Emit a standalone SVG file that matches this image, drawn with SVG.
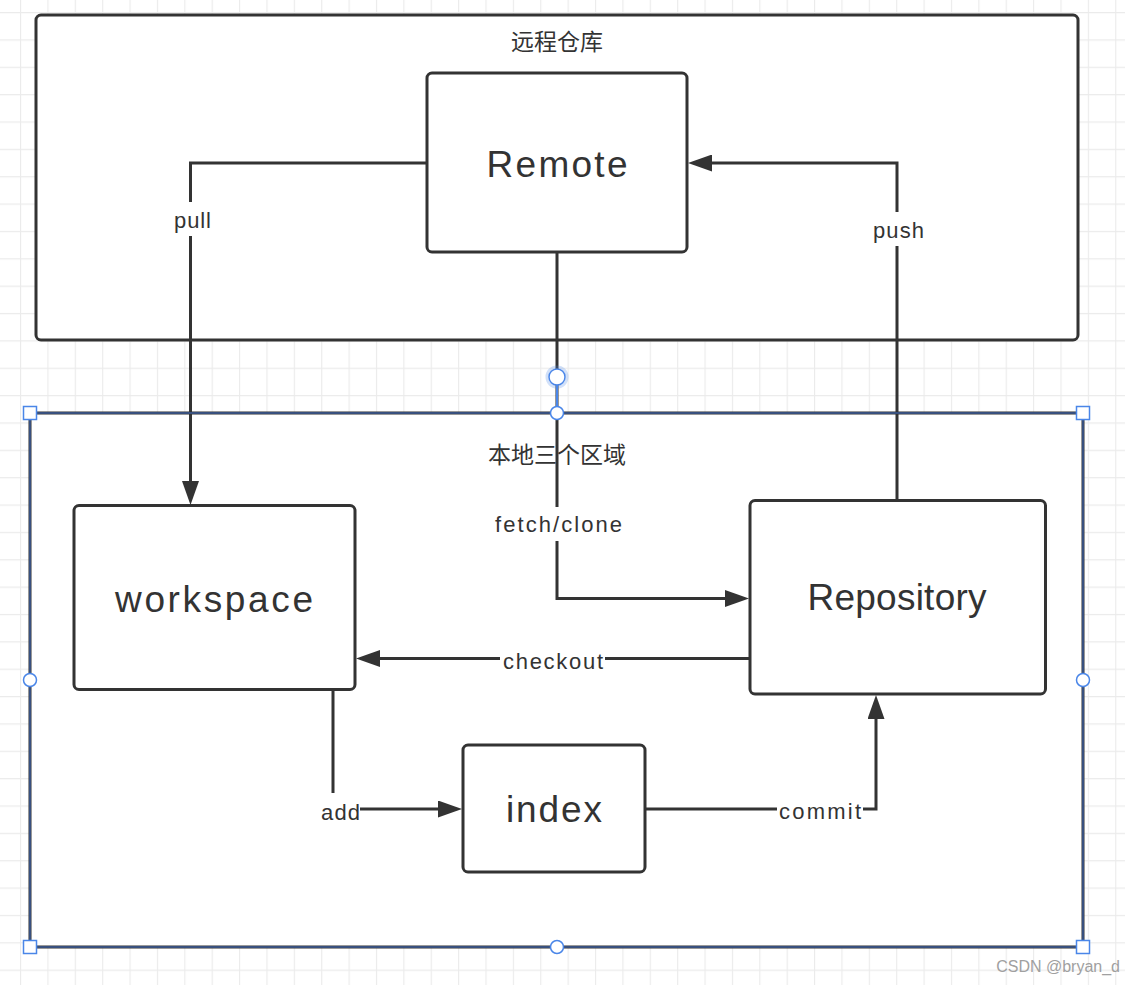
<svg xmlns="http://www.w3.org/2000/svg" width="1125" height="985" viewBox="0 0 1125 985">
  <style>
    .box { fill: #ffffff; stroke: #333333; stroke-width: 3; }
    .big { font-family: "Liberation Sans", Arial, sans-serif; font-size: 37px; fill: #333333; text-anchor: middle; }
    .lbl { font-family: "Liberation Sans", Arial, sans-serif; font-size: 22px; fill: #333333; text-anchor: middle; }
    .cjk { font-family: "Noto Sans CJK SC", "Liberation Sans", sans-serif; font-size: 23px; fill: #333333; text-anchor: middle; }
    .conn { fill: none; stroke: #333333; stroke-width: 3; }
    .lblbg { fill: #ffffff; }
    .hsq { fill: #ffffff; stroke: #4a86e8; stroke-width: 1.5; }
    .hci { fill: #ffffff; stroke: #4a86e8; stroke-width: 1.5; }
  </style>
  <defs>
    <pattern id="grid" x="20" y="12" width="27.38" height="27.36" patternUnits="userSpaceOnUse">
      <path d="M0.5,0 V27.36 M0,0.5 H27.38" fill="none" stroke="#ebebeb" stroke-width="1.3"/>
    </pattern>
    <marker id="ah" markerWidth="24" markerHeight="17" refX="12" refY="8.5" orient="auto" markerUnits="userSpaceOnUse">
      <path d="M0,0 L24,8.5 L0,17 z" fill="#333333"/>
    </marker>
  </defs>

  <rect x="0" y="0" width="1125" height="985" fill="#ffffff"/>
  <rect x="0" y="0" width="1125" height="985" fill="url(#grid)"/>

  <g id="remote-repo-group">
    <rect class="box" x="36" y="15" width="1042" height="325" rx="5"/>
    <text class="cjk" x="557" y="50">远程仓库</text>
  </g>

  <g id="local-group">
    <rect class="box" x="30" y="413" width="1053" height="534"/>
    <text class="cjk" x="557" y="463">本地三个区域</text>
  </g>

  <g id="node-remote">
    <rect class="box" x="427" y="73" width="260" height="179" rx="5"/>
    <text class="big" x="557" y="176.5" textLength="141" lengthAdjust="spacing">Remote</text>
  </g>

  <g id="node-workspace">
    <rect class="box" x="74" y="505.5" width="281" height="184" rx="5"/>
    <text class="big" x="214" y="611.5" textLength="198" lengthAdjust="spacing">workspace</text>
  </g>

  <g id="node-repository">
    <rect class="box" x="750" y="500.5" width="295.5" height="193.5" rx="5"/>
    <text class="big" x="897" y="609.5" textLength="179" lengthAdjust="spacing">Repository</text>
  </g>

  <g id="node-index">
    <rect class="box" x="463" y="745" width="182" height="127" rx="5"/>
    <text class="big" x="554" y="821.5" textLength="96" lengthAdjust="spacing">index</text>
  </g>

  <g id="connectors">
    <path class="conn" d="M426,163 H190.5 V493" marker-end="url(#ah)"/>
    <path class="conn" d="M897,500 V163 H700" marker-end="url(#ah)"/>
    <path class="conn" d="M557,253 V598.5 H737" marker-end="url(#ah)"/>
    <path class="conn" d="M749,658.5 H368" marker-end="url(#ah)"/>
    <path class="conn" d="M333,690 V809 H450" marker-end="url(#ah)"/>
    <path class="conn" d="M645,809 H876 V707" marker-end="url(#ah)"/>

    <rect class="lblbg" x="172" y="202" width="41" height="34"/>
    <text class="lbl" x="192.5" y="228" textLength="37" lengthAdjust="spacing">pull</text>

    <rect class="lblbg" x="871" y="212" width="55" height="34"/>
    <text class="lbl" x="898.5" y="238" textLength="51" lengthAdjust="spacing">push</text>

    <rect class="lblbg" x="493" y="507" width="131" height="34"/>
    <text class="lbl" x="558.5" y="531.5" textLength="127" lengthAdjust="spacing">fetch/clone</text>

    <rect class="lblbg" x="500" y="643" width="105" height="32"/>
    <text class="lbl" x="553" y="669" textLength="100" lengthAdjust="spacing">checkout</text>

    <rect class="lblbg" x="318" y="793" width="42" height="32"/>
    <text class="lbl" x="340.5" y="820" textLength="39" lengthAdjust="spacing">add</text>

    <rect class="lblbg" x="777" y="793" width="86" height="32"/>
    <text class="lbl" x="820" y="818.5" textLength="82" lengthAdjust="spacing">commit</text>
  </g>

  <g id="selection">
    <rect x="30" y="413" width="1053" height="534" fill="none" stroke="#3f6fc9" stroke-width="1"/>
    <line x1="557" y1="385" x2="557" y2="407" stroke="#4a86e8" stroke-width="2"/>
    <circle cx="557" cy="377" r="10" fill="none" stroke="#4a86e8" stroke-opacity="0.25" stroke-width="3"/>
    <circle class="hci" cx="557" cy="377" r="8"/>
    <circle class="hci" cx="557" cy="413" r="6.5"/>
    <circle class="hci" cx="557" cy="947" r="6.5"/>
    <circle class="hci" cx="30" cy="680" r="6.5"/>
    <circle class="hci" cx="1083" cy="680" r="6.5"/>
    <rect class="hsq" x="23.5" y="406.5" width="13" height="13"/>
    <rect class="hsq" x="1076.5" y="406.5" width="13" height="13"/>
    <rect class="hsq" x="23.5" y="940.5" width="13" height="13"/>
    <rect class="hsq" x="1076.5" y="940.5" width="13" height="13"/>
  </g>

  <text x="1120" y="972" font-family="'Liberation Sans', Arial, sans-serif" font-size="16" fill="#a0a0a0" text-anchor="end">CSDN @bryan_d</text>
</svg>
